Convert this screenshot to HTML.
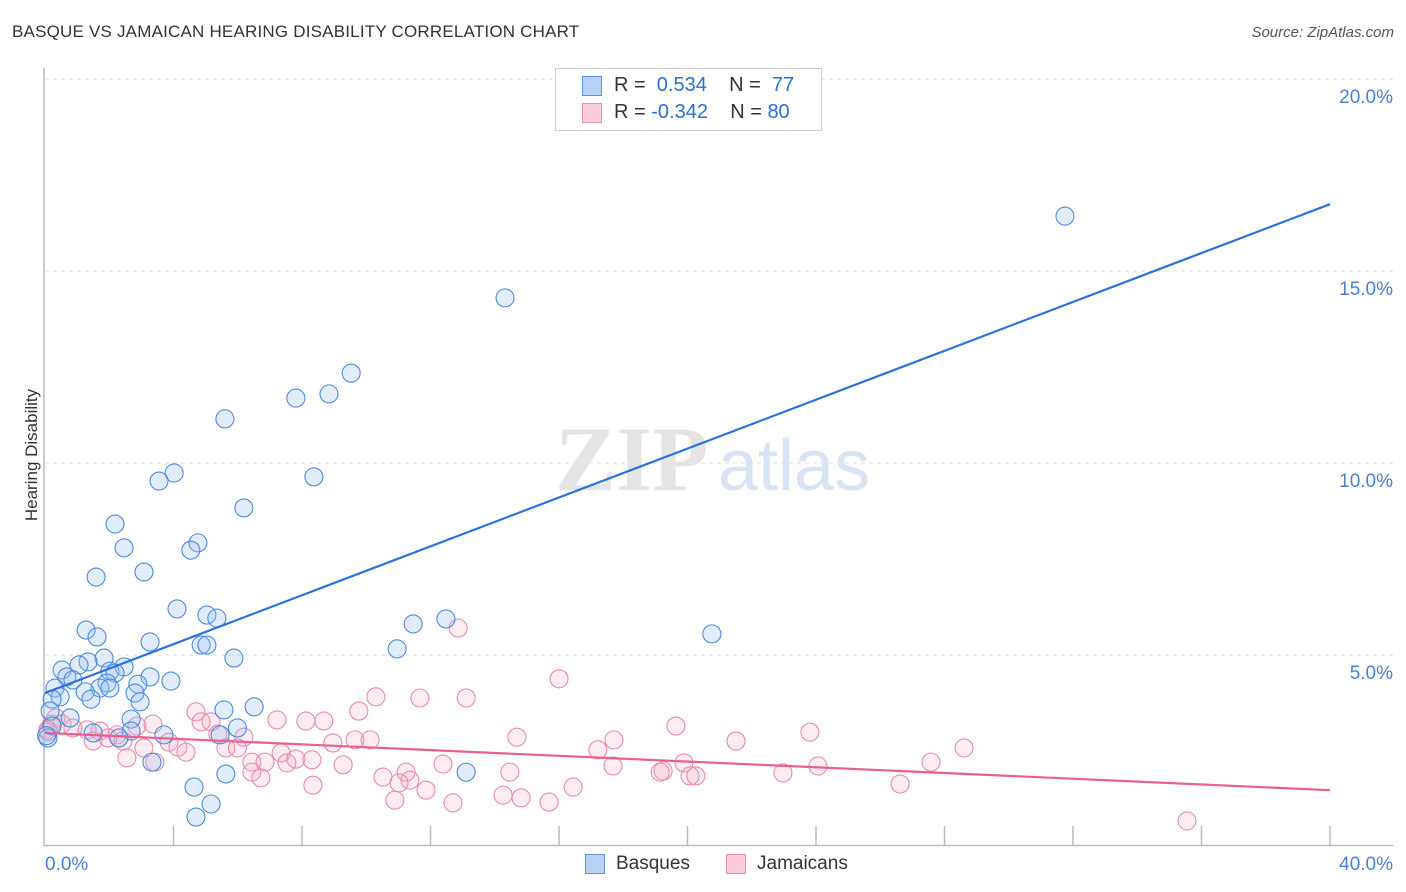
<!DOCTYPE html>
<html><head><meta charset="utf-8"><style>
body{margin:0;background:#fff;font-family:"Liberation Sans",sans-serif;}
#wrap{position:relative;width:1406px;height:892px;overflow:hidden;}
.t{position:absolute;white-space:nowrap;}
</style></head><body><div id="wrap">
<div class="t" style="left:12px;top:22px;font-size:17px;color:#333;letter-spacing:0.2px">BASQUE VS JAMAICAN HEARING DISABILITY CORRELATION CHART</div>
<div class="t" style="right:12px;top:24px;font-size:15px;color:#555;font-style:italic">Source: ZipAtlas.com</div>
<svg id="svg" width="1406" height="892" style="position:absolute;left:0;top:0"></svg>
</div>
<script>
const xTicks=[0,40];
const yTicks=[5,10,15,20];
const basqueX=[31.75,14.32,9.53,7.81,8.84,5.60,4.02,3.55,8.37,6.19,2.18,2.46,4.76,4.54,3.08,1.59,4.11,5.04,5.35,12.48,11.46,20.76,1.28,1.62,3.27,4.86,5.04,10.96,5.88,1.84,1.34,0.53,1.06,2.46,2.02,2.18,0.68,0.87,3.27,3.92,2.89,1.93,1.71,2.02,0.31,1.25,2.80,0.47,0.22,1.43,2.96,6.51,5.57,0.16,0.78,2.68,5.99,2.68,0.22,0.09,1.50,3.70,2.30,5.45,3.33,13.11,5.63,4.64,5.17,4.70,0.05];
const basqueY=[16.43,14.30,12.34,11.69,11.80,11.15,9.74,9.53,9.64,8.83,8.41,7.79,7.92,7.73,7.16,7.03,6.20,6.04,5.96,5.94,5.81,5.55,5.65,5.47,5.34,5.26,5.26,5.16,4.92,4.92,4.82,4.61,4.74,4.69,4.58,4.53,4.43,4.35,4.43,4.32,4.24,4.27,4.14,4.14,4.14,4.04,4.01,3.91,3.85,3.85,3.78,3.65,3.57,3.54,3.36,3.33,3.10,3.02,3.15,2.84,2.97,2.92,2.84,2.92,2.21,1.95,1.90,1.56,1.12,0.78,2.9];
const jamX=[35.55,12.86,16.00,10.30,11.67,13.11,9.77,4.70,7.22,8.12,8.68,4.86,5.17,3.36,2.86,19.64,0.34,0.53,0.87,1.31,1.71,0.09,23.81,2.24,5.38,6.19,14.69,17.71,21.51,9.65,10.12,8.96,1.50,1.96,2.43,3.86,4.14,3.08,4.39,5.63,5.99,28.61,17.21,7.35,7.81,8.31,6.44,6.85,7.53,3.42,2.55,12.39,27.58,19.89,9.28,17.68,24.06,19.24,19.15,14.47,11.24,10.52,20.08,20.26,22.97,6.44,6.72,11.36,11.02,8.34,11.86,16.44,26.62,14.26,14.82,10.89,12.70,15.69,0.1,0.2];
const jamY=[0.68,5.70,4.38,3.91,3.88,3.88,3.54,3.52,3.31,3.28,3.28,3.26,3.26,3.20,3.15,3.15,3.36,3.20,3.10,3.05,3.02,3.05,2.99,2.92,2.94,2.86,2.86,2.79,2.76,2.79,2.79,2.71,2.76,2.84,2.76,2.73,2.60,2.58,2.47,2.58,2.58,2.58,2.53,2.45,2.29,2.27,2.21,2.21,2.19,2.21,2.32,2.16,2.21,2.19,2.14,2.11,2.11,1.98,1.95,1.95,1.95,1.82,1.85,1.85,1.93,1.95,1.80,1.74,1.67,1.61,1.48,1.56,1.64,1.35,1.28,1.22,1.15,1.17,3.0,3.2];
const blueLine=[4.01,16.74];
const pinkLine=[2.97,1.48];
const sx=v=>45+v*32.125, sy=v=>847-v*38.4;
const svg=document.getElementById('svg'),NS='http://www.w3.org/2000/svg';
function mk(tag,a,p){const e=document.createElementNS(NS,tag);for(const k in a)e.setAttribute(k,a[k]);(p||svg).appendChild(e);return e;}
for(const v of yTicks){
 const g=mk('line',{x1:45,x2:1393,y1:sy(v),y2:sy(v),stroke:'#ddd','stroke-dasharray':'4,4'});
 
 
 const t=mk('text',{x:1393,y:sy(v)+24,'text-anchor':'end','font-size':19,fill:'#4a7fd6','font-family':'Liberation Sans, sans-serif'});
 t.textContent=v.toFixed(1)+'%';
 
 
}
mk('line',{x1:44,x2:44,y1:68,y2:846,stroke:'#bbb','stroke-width':1.5});
mk('line',{x1:44,x2:1393,y1:845.5,y2:845.5,stroke:'#bbb','stroke-width':1.5});
for(let i=1;i<=10;i++){mk('line',{x1:sx(i*4),x2:sx(i*4),y1:826,y2:845,stroke:'#bbb','stroke-width':1.5});}
xTicks.forEach((v,i)=>{const t=mk('text',{x:i?1393:45,y:870,'text-anchor':i?'end':'start','font-size':19,fill:'#4a7fd6','font-family':'Liberation Sans, sans-serif'});t.textContent=v.toFixed(1)+'%';
 
 });
const w=mk('text',{x:555,y:490,'font-size':92,fill:'#e4e4e4','font-family':'Liberation Serif, serif','font-weight':'bold'});w.textContent='ZIP';


const w2=mk('text',{x:718,y:490,'font-size':72,fill:'#d8e4f4','font-family':'Liberation Sans, sans-serif'});w2.textContent='atlas';


function pts(xs,ys,stroke,fill,name){xs.forEach((x,i)=>{const c=mk('circle',{cx:sx(x),cy:sy(ys[i]),r:9,fill:fill,stroke:stroke,'stroke-width':1.1});
 
 });}
pts(jamX,jamY,'#e88aab','rgba(244,170,196,0.22)','jamaican-point');
pts(basqueX,basqueY,'#4a8ae0','rgba(150,190,240,0.28)','basque-point');
const bl=mk('line',{x1:sx(0),y1:sy(blueLine[0]),x2:sx(40),y2:sy(blueLine[1]),stroke:'#2a72d8','stroke-width':2.2});


const pl=mk('line',{x1:sx(0),y1:sy(pinkLine[0]),x2:sx(40),y2:sy(pinkLine[1]),stroke:'#e8608f','stroke-width':2.2});


</script>
<div class="t" style="left:-38px;top:445px;transform:rotate(-90deg);font-size:17px;color:#333;width:140px;text-align:center">Hearing Disability</div>
<div class="t" style="left:555px;top:68px;width:265px;height:61px;border:1px solid #ccc;background:#fff">
 <div class="t" style="left:26px;top:7px;width:18px;height:18px;background:#b8d2f6;border:1px solid #5a92e0"></div>
 <div class="t" style="left:58px;top:5px;font-size:20px;color:#333">R = &nbsp;<span style="color:#2a6fd6">0.534</span>&nbsp;&nbsp;&nbsp; N = &nbsp;<span style="color:#2a6fd6">77</span></div>
 <div class="t" style="left:26px;top:34px;width:18px;height:18px;background:#fbcadb;border:1px solid #e890b0"></div>
 <div class="t" style="left:58px;top:32px;font-size:20px;color:#333">R = <span style="color:#2a6fd6">-0.342</span>&nbsp;&nbsp;&nbsp; N = <span style="color:#2a6fd6">80</span></div>
</div>
<div class="t" style="left:585px;top:854px;width:18px;height:18px;background:#b8d2f6;border:1px solid #5a92e0"></div>
<div class="t" style="left:616px;top:853px;font-size:19px;color:#333">Basques</div>
<div class="t" style="left:726px;top:854px;width:18px;height:18px;background:#fbcadb;border:1px solid #e890b0"></div>
<div class="t" style="left:757px;top:853px;font-size:19px;color:#333">Jamaicans</div>
</body></html>
